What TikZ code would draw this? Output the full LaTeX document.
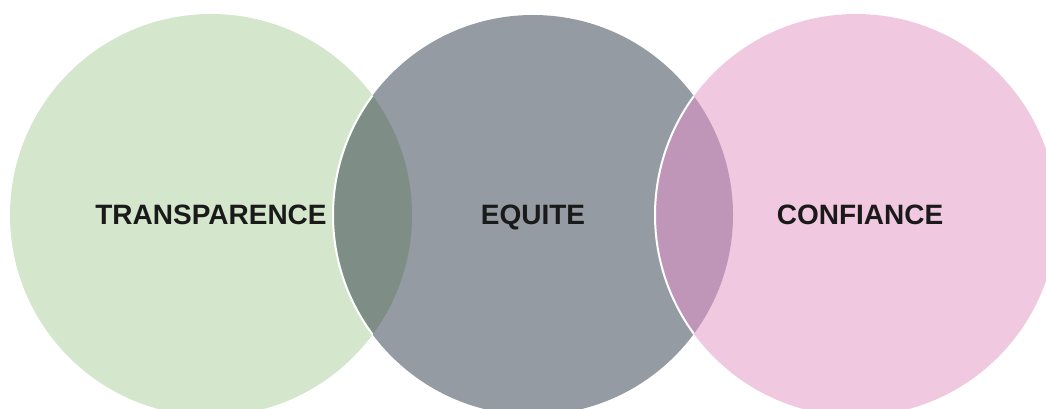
\documentclass[tikz,border=0pt]{standalone}
\usepackage{fontspec}
\setmainfont{Liberation Sans}
\definecolor{cgreen}{HTML}{D4E6CC}
\definecolor{cgray}{HTML}{949BA2}
\definecolor{cpink}{HTML}{F0C8E0}
\definecolor{lensL}{HTML}{7E8D86}
\definecolor{lensR}{HTML}{C096B8}
\definecolor{ctext}{HTML}{1A1A1A}
\begin{document}
\begin{tikzpicture}[x=1pt,y=1pt,
  lbl/.style={font=\fontsize{28}{30}\selectfont\bfseries, text=ctext, inner sep=0pt, anchor=base}]
\useasboundingbox (0,0) rectangle (1046,409);
\begin{scope}
\clip (0,0) rectangle (1046,409);
\fill[cgreen] (211,194) circle (201);
\fill[cgray] (533,194) circle (200);
\begin{scope}
  \clip (211,194) circle (201);
  \fill[lensL] (533,194) circle (200);
  \draw[white, line width=2] (533,194) circle (200);
\end{scope}
\fill[cpink] (856,194) circle (201);
\begin{scope}
  \clip (533,194) circle (200);
  \fill[lensR] (856,194) circle (201);
  \draw[white, line width=2] (856,194) circle (201);
\end{scope}
\end{scope}
\node[lbl] (t) at (211,184) {TRANSPARENCE};
\node[lbl] (e) at (533,184) {EQUITE};
\node[lbl] (c) at (860,184) {CONFIANCE};
\end{tikzpicture}
\end{document}
